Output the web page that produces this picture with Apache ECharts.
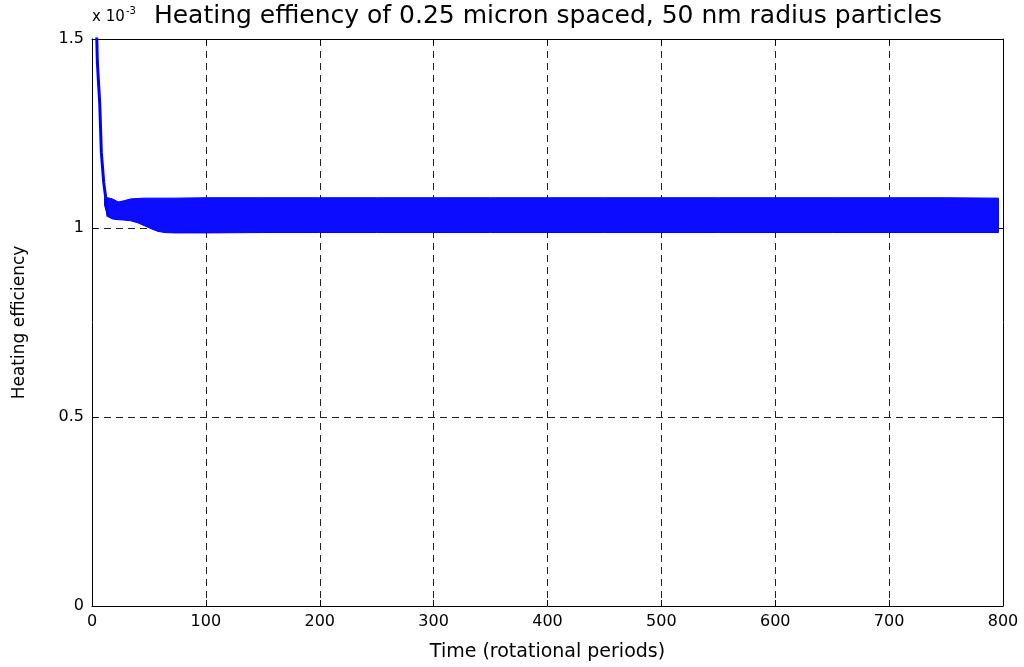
<!DOCTYPE html>
<html>
<head>
<meta charset="utf-8">
<script src="https://cdn.jsdelivr.net/npm/echarts@6/dist/echarts.min.js"></script>
<style>
  html, body { margin: 0; padding: 0; background: #fff; }
  #main { width: 1024px; height: 667px; }
</style>
</head>
<body>
<div id="main"></div>
<script type="text/javascript">
    // values, in units of 1e-3
    var decayTime = [3.7, 4.7, 5.8, 6.8, 8.2, 10.3, 12.6, 14];
    var decayValue = [1.56, 1.44, 1.38, 1.33, 1.2, 1.12, 1.068, 1.03];

    // envelope of the fast oscillation (top / bottom of the blue band)
    var bandTime  = [11, 14, 18, 23, 28, 34, 40, 46, 52, 58, 64, 72, 100, 150, 200, 250, 300, 350, 400, 450, 500, 550, 600, 650, 700, 750, 796];
    var bandUpper = [1.08, 1.08, 1.077, 1.069, 1.072, 1.077, 1.078, 1.079, 1.079, 1.079, 1.079, 1.079, 1.08, 1.08, 1.08, 1.08, 1.08, 1.08, 1.08, 1.08, 1.08, 1.08, 1.08, 1.08, 1.08, 1.08, 1.079];
    var bandLower = [1.06, 1.03, 1.024, 1.022, 1.021, 1.019, 1.014, 1.006, 0.998, 0.991, 0.988, 0.987, 0.987, 0.988, 0.988, 0.988, 0.988, 0.988, 0.988, 0.988, 0.988, 0.988, 0.988, 0.988, 0.988, 0.988, 0.988];

    var xTicks = [0, 100, 200, 300, 400, 500, 600, 700, 800];
    var yTicks = [0, 0.5, 1, 1.5];

    var FONT = 'DejaVu Sans';

    var decayData = decayTime.map(function (t, i) { return [t, decayValue[i]]; });
    var bandData = bandTime.map(function (t, i) { return [t, bandLower[i], bandUpper[i]]; });

    // band = polygon along the upper envelope, back along the lower one
    function renderBand(params, api) {
        if (params.dataIndex !== 0) return;
        var pts = [];
        for (var i = 0; i < bandTime.length; i++) pts.push(api.coord([bandTime[i], bandUpper[i]]));
        for (var j = bandTime.length - 1; j >= 0; j--) pts.push(api.coord([bandTime[j], bandLower[j]]));
        return {
            type: 'polygon',
            shape: { points: pts },
            style: { fill: '#0c0cff', stroke: '#0000ff', lineWidth: 1 }
        };
    }

    var gridLine = { show: true, lineStyle: { color: '#222', type: [7, 5], width: 1 } };
    var tick = { show: true, inside: true, length: 6, lineStyle: { color: '#000' } };
    var line = { show: true, onZero: false, lineStyle: { color: '#000', width: 1 } };

    var myChart = echarts.init(document.getElementById('main'));
    var option = {
        backgroundColor: '#fff',
        animation: false,
        grid: { left: 92, right: 21, top: 39, bottom: 61 },
        graphic: [
            { type: 'text', x: 548, y: 16.5, style: { text: 'Heating effiency of 0.25 micron spaced, 50 nm radius particles', font: '25px ' + FONT, fill: '#000', textAlign: 'center', textVerticalAlign: 'middle' } },
            { type: 'text', x: 92, y: 17.5, style: { text: 'x 10', font: '15px ' + FONT, fill: '#000', textAlign: 'left', textVerticalAlign: 'middle' } },
            { type: 'text', x: 126, y: 11.5, style: { text: '-3', font: '10px ' + FONT, fill: '#000', textAlign: 'left', textVerticalAlign: 'middle' } }
        ],
        xAxis: [
            {
                type: 'value', min: xTicks[0], max: xTicks[xTicks.length - 1], interval: 100,
                position: 'bottom',
                axisLine: line, axisTick: tick, splitLine: gridLine,
                axisLabel: { color: '#000', fontFamily: FONT, fontSize: 16, margin: 8 },
                name: 'Time (rotational periods)', nameLocation: 'middle', nameGap: 37,
                nameTextStyle: { color: '#000', fontFamily: FONT, fontSize: 19 }
            },
            {
                type: 'value', min: xTicks[0], max: xTicks[xTicks.length - 1], interval: 100,
                position: 'top',
                axisLine: line, axisTick: tick, splitLine: { show: false },
                axisLabel: { show: false }
            }
        ],
        yAxis: [
            {
                type: 'value', min: yTicks[0], max: yTicks[yTicks.length - 1], interval: 0.5,
                position: 'left',
                axisLine: line, axisTick: tick, splitLine: gridLine,
                axisLabel: { color: '#000', fontFamily: FONT, fontSize: 16, margin: 8 },
                name: 'Heating efficiency', nameLocation: 'middle', nameGap: 64,
                nameTextStyle: { color: '#000', fontFamily: FONT, fontSize: 17 }
            },
            {
                type: 'value', min: yTicks[0], max: yTicks[yTicks.length - 1], interval: 0.5,
                position: 'right',
                axisLine: line, axisTick: tick, splitLine: { show: false },
                axisLabel: { show: false }
            }
        ],
        series: [
            {
                name: 'band', type: 'custom', data: bandData,
                encode: { x: 0, y: [1, 2] },
                renderItem: renderBand, clip: true
            },
            {
                name: 'decay', type: 'line', data: decayData,
                showSymbol: false, clip: true,
                lineStyle: { width: 3, color: '#0000ff' }
            }
        ]
    };
    myChart.setOption(option);
</script>
</body>
</html>
